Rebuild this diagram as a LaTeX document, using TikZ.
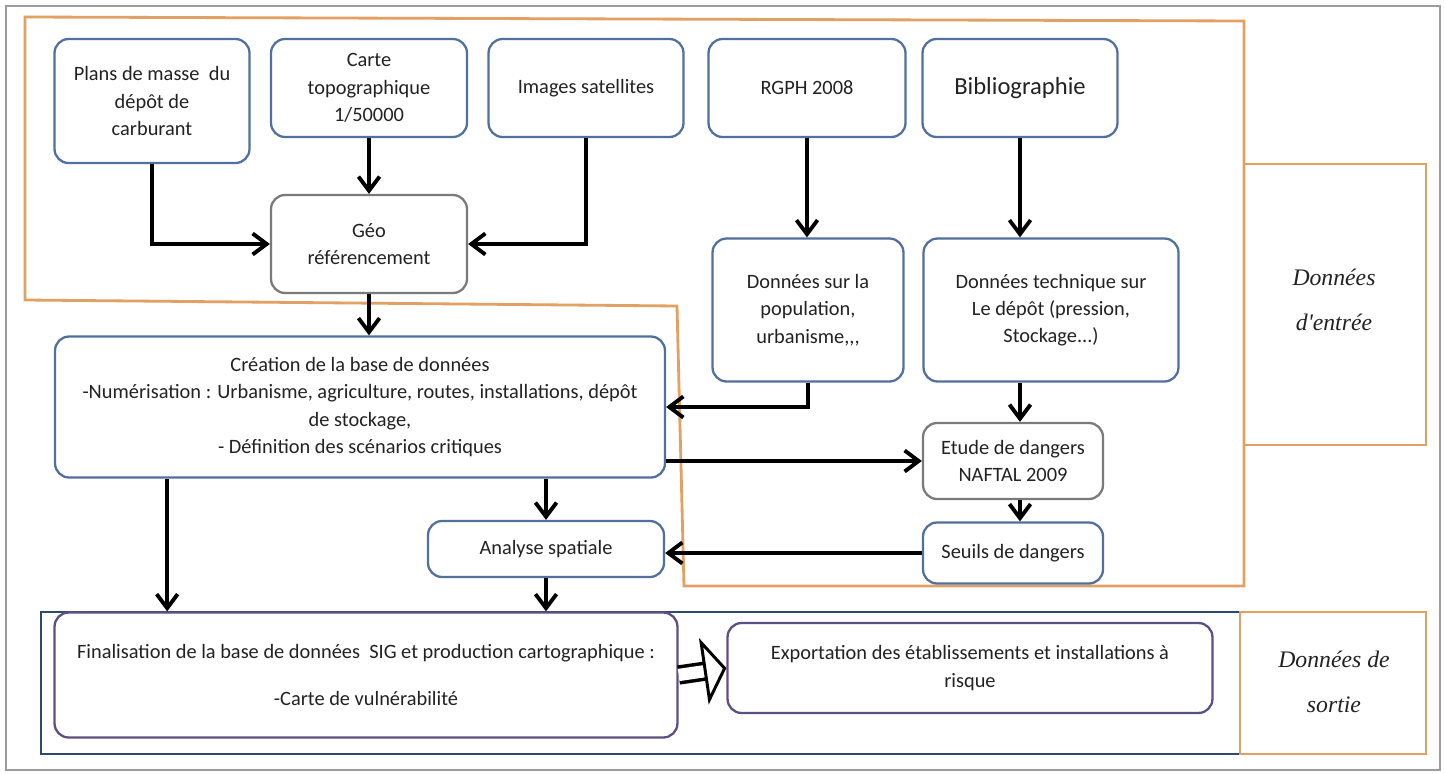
\documentclass[tikz,border=0pt]{standalone}
\usepackage{fontspec}
\setmainfont{Carlito}
\newfontfamily\sidefont{Liberation Serif}
\usepackage{tikz}
\usetikzlibrary{positioning,arrows.meta,calc}
\definecolor{boxBlue}{HTML}{51709E}
\definecolor{boxGray}{HTML}{7A7A7A}
\definecolor{boxPurple}{HTML}{5E4F82}
\definecolor{zoneOrange}{HTML}{E2A063}
\definecolor{zoneNavy}{HTML}{2F4A68}
\definecolor{frameGray}{HTML}{9C9C9C}
\definecolor{txtDark}{HTML}{222222}
\tikzset{
  stepbox/.style={draw=boxBlue, line width=1.3pt, rounded corners=8pt, fill=white,
                  align=center, text=txtDark, inner sep=3pt,
                  font=\fontsize{11.6}{15.5}\selectfont},
  graybox/.style={stepbox, draw=boxGray},
  outbox/.style={stepbox, draw=boxPurple},
  zonelabel/.style={align=center, text=txtDark, font=\sidefont\itshape\fontsize{13.5}{25.5}\selectfont},
  flowarrow/.style={-{Straight Barb[length=8pt, width=12pt]}, line width=2.2pt},
  exportarrow/.style={-{Triangle[open, length=13pt, width=38pt, line width=1.7pt]},
                      double, double distance=7pt, line width=2pt},
}

\begin{document}
\begin{tikzpicture}[x=0.02cm, y=-0.02cm]
\useasboundingbox (0,0) rectangle (1445,774);
%% Frames
\draw[frameGray, line width=0.6pt] (6,6) rectangle (1440,770);
\draw[zoneOrange, line width=1.6pt] (25,17) -- (1244,21) -- (1244,586) -- (684,586)
  -- (677,306) -- (25,300) -- cycle;
\draw[zoneOrange, line width=1.6pt] (1244,164) rectangle (1426,445);
\draw[zoneNavy, line width=1.6pt] (41,612) rectangle (1240,754);
\draw[zoneOrange, line width=1.6pt] (1240,612) rectangle (1426,754);
\node[zonelabel] (inlbl) at (1334,300) {Données\\d'entrée};
\node[zonelabel] (outlbl) at (1334,682) {Données de\\sortie};
%% Sources
\node[stepbox, minimum width=3.9cm, minimum height=2.48cm] (plans) at (152,101)
  {Plans de masse\ \ du\\dépôt de\\carburant};
\node[stepbox, minimum width=3.92cm, minimum height=1.96cm] (carte) at (369,88)
  {Carte\\topographique\\1/50000};
\node[stepbox, minimum width=3.9cm, minimum height=1.96cm] (images) at (586,88)
  {Images satellites};
\node[stepbox, minimum width=3.94cm, minimum height=1.96cm] (rgph) at (807,88)
  {RGPH 2008};
\node[stepbox, minimum width=3.9cm, minimum height=1.96cm,
      font=\fontsize{14}{17}\selectfont] (biblio) at (1020,88) {Bibliographie};
%% Processing
\node[graybox, minimum width=3.92cm, minimum height=1.96cm] (geo) at (369,244)
  {Géo\\référencement};
\node[stepbox, minimum width=3.82cm, minimum height=2.86cm] (pop) at (808,310)
  {Données sur la\\population,\\urbanisme,{},{},};
\node[stepbox, minimum width=5.1cm, minimum height=2.86cm] (tech) at (1051,310)
  {Données technique sur\\Le dépôt (pression,\\Stockage...)};
\node[stepbox, minimum width=12.2cm, minimum height=2.82cm] (creation) at (360,407)
  {Création de la base de données\\
   -Numérisation : Urbanisme, agriculture, routes, installations, dépôt\\
   de stockage,\\
   - Définition des scénarios critiques};
\node[graybox, minimum width=3.6cm, minimum height=1.52cm] (etude) at (1013,461)
  {Etude de dangers\\NAFTAL 2009};
\node[stepbox, minimum width=3.6cm, minimum height=1.22cm] (seuils) at (1013,553)
  {Seuils de dangers};
\node[stepbox, minimum width=4.72cm, minimum height=1.12cm] (analyse) at (546,549)
  {Analyse spatiale};
%% Outputs
\node[outbox, minimum width=12.46cm, minimum height=2.5cm] (final) at (366,675)
  {Finalisation de la base de données\ \ SIG et production cartographique :\\[11pt]
   -Carte de vulnérabilité};
\node[outbox, minimum width=9.7cm, minimum height=1.8cm] (export) at (970,668)
  {Exportation des établissements et installations à\\risque};
\coordinate (lefttap) at ($(creation.south west)!0.185!(creation.south east)$);
%% Connectors
\draw[flowarrow] (plans.south) |- (geo.west);
\draw[flowarrow] (carte.south) -- (geo.north);
\draw[flowarrow] (images.south) |- (geo.east);
\draw[flowarrow] (rgph.south) -- (rgph.south |- pop.north);
\draw[flowarrow] (biblio.south) -- (biblio.south |- tech.north);
\draw[flowarrow] (geo.south) -- (geo.south |- creation.north);
\draw[flowarrow] (pop.south) |- (creation.east);
\draw[flowarrow] (creation.east |- etude.west) -- (etude.west);
\draw[flowarrow] (analyse.north |- creation.south) -- (analyse.north);
\draw[flowarrow] (biblio.south |- tech.south) -- (biblio.south |- etude.north);
\draw[flowarrow] (biblio.south |- etude.south) -- (biblio.south |- seuils.north);
\draw[flowarrow] (seuils.west) -- (seuils.west -| analyse.east);
\draw[flowarrow] (lefttap) -- (lefttap |- final.north);
\draw[flowarrow] (analyse.south) -- (analyse.south |- final.north);
\draw[exportarrow] (final.east) -- (export.west);
\end{tikzpicture}
\end{document}
